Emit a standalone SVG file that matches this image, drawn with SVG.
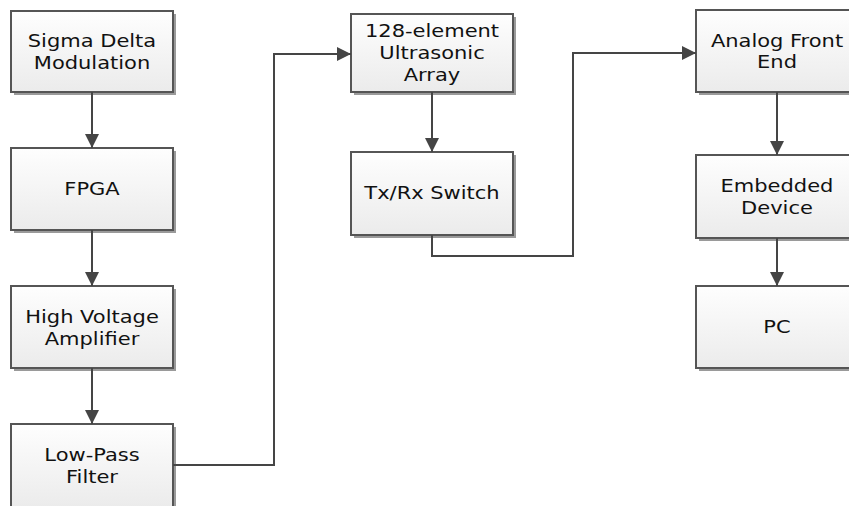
<svg xmlns="http://www.w3.org/2000/svg" width="849" height="506" viewBox="0 0 849 506">
<style>
.box{fill:url(#g);stroke:#555;stroke-width:2}
.sh{fill:#9a9a9a}
.t{font-family:"DejaVu Sans",sans-serif;font-size:17.5px;fill:#111;text-anchor:middle}
.c{fill:none;stroke:#454545;stroke-width:2;marker-end:url(#a)}
</style>
<defs>
<linearGradient id="g" x1="0" y1="0" x2="0" y2="1">
<stop offset="0" stop-color="#fefefe"/>
<stop offset="1" stop-color="#ebebeb"/>
</linearGradient>
<marker id="a" markerUnits="userSpaceOnUse" markerWidth="14" markerHeight="14" refX="12" refY="6" orient="auto" viewBox="0 0 12 12">
<path d="M0,0 L12,6 L0,12 Z" fill="#454545"/>
</marker>
</defs>
<g id="sigma"><rect class="sh" x="14" y="14" width="162" height="81"/><rect class="box" x="11" y="11" width="162" height="81"/>
<text class="t" transform="translate(92,47) scale(1.2,1)"><tspan x="0" y="0">Sigma Delta</tspan><tspan x="0" y="22">Modulation</tspan></text></g>
<g id="fpga"><rect class="sh" x="14" y="151" width="162" height="82"/><rect class="box" x="11" y="148" width="162" height="82"/>
<text class="t" transform="translate(92,195) scale(1.2,1)">FPGA</text></g>
<g id="hva"><rect class="sh" x="14" y="289" width="162" height="82"/><rect class="box" x="11" y="286" width="162" height="82"/>
<text class="t" transform="translate(92,323) scale(1.2,1)"><tspan x="0" y="0">High Voltage</tspan><tspan x="0" y="22">Amplifier</tspan></text></g>
<g id="lpf"><rect class="sh" x="14" y="427" width="162" height="84"/><rect class="box" x="11" y="424" width="162" height="84"/>
<text class="t" transform="translate(92,461) scale(1.2,1)"><tspan x="0" y="0">Low-Pass</tspan><tspan x="0" y="22">Filter</tspan></text></g>
<g id="array"><rect class="sh" x="354" y="17" width="162" height="78"/><rect class="box" x="351" y="14" width="162" height="78"/>
<text class="t" transform="translate(432,37) scale(1.2,1)"><tspan x="0" y="0">128-element</tspan><tspan x="0" y="22">Ultrasonic</tspan><tspan x="0" y="44">Array</tspan></text></g>
<g id="txrx"><rect class="sh" x="354" y="155" width="162" height="83"/><rect class="box" x="351" y="152" width="162" height="83"/>
<text class="t" transform="translate(432,199) scale(1.2,1)">Tx/Rx Switch</text></g>
<g id="afe"><rect class="sh" x="699" y="13" width="162" height="82"/><rect class="box" x="696" y="10" width="162" height="82"/>
<text class="t" transform="translate(777,47) scale(1.2,1)"><tspan x="0" y="0">Analog Front</tspan><tspan x="0" y="21">End</tspan></text></g>
<g id="embedded"><rect class="sh" x="699" y="158" width="162" height="83"/><rect class="box" x="696" y="155" width="162" height="83"/>
<text class="t" transform="translate(777,192) scale(1.2,1)"><tspan x="0" y="0">Embedded</tspan><tspan x="0" y="22">Device</tspan></text></g>
<g id="pc"><rect class="sh" x="699" y="289" width="162" height="82"/><rect class="box" x="696" y="286" width="162" height="82"/>
<text class="t" transform="translate(777,333) scale(1.2,1)">PC</text></g>
<g id="connectors">
<path class="c" d="M92,92 V148"/>
<path class="c" d="M92,230 V286"/>
<path class="c" d="M92,368 V424"/>
<path class="c" d="M173,465 H274 V54 H351"/>
<path class="c" d="M432,92 V152"/>
<path class="c" d="M432,235 V256 H573 V53 H696"/>
<path class="c" d="M777,92 V155"/>
<path class="c" d="M777,238 V286"/>
</g>
</svg>
